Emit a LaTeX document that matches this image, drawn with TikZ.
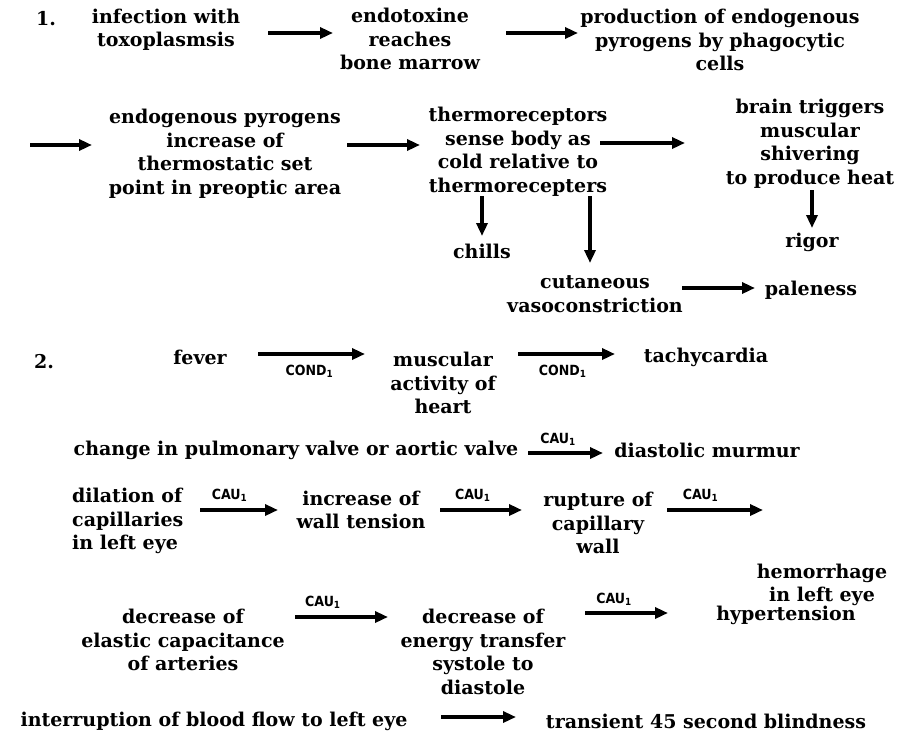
\documentclass[tikz,border=0pt]{standalone}
\usepackage{fontspec}
\setmainfont{DejaVu Serif}
\newfontfamily\labfont{DejaVu Sans Condensed}
\usetikzlibrary{arrows.meta}
\begin{document}
\begin{tikzpicture}[x=1pt,y=-1pt,
  txt/.style={inner sep=0pt, align=center, font=\fontsize{19}{23.5}\selectfont\bfseries},
  lab/.style={inner sep=0pt, font=\fontsize{14}{16}\selectfont\labfont\bfseries},
  arr/.style={line width=3.5pt, -{Triangle[length=13pt,width=11pt]}},
]
\useasboundingbox[fill=white] (0,0) rectangle (901,737);

% ---------- part 1: fever chain ----------
\node[txt] (num1) at (46,19) {1.};
\node[txt] (inf) at (166,30) {infection with\\toxoplasmsis};
\node[txt] (endo) at (410,39) {endotoxine\\reaches\\bone marrow};
\node[txt] (prod) at (720,40) {production of endogenous\\pyrogens by phagocytic\\cells};

\coordinate (a1s) at (268,33); \coordinate (a1e) at (333,33);
\coordinate (a2s) at (506,33); \coordinate (a2e) at (578,33);
\draw[arr] (a1s) -- (a1e);
\draw[arr] (a2s) -- (a2e);

\coordinate (a3s) at (30,145); \coordinate (a3e) at (92,145);
\draw[arr] (a3s) -- (a3e);
\node[txt] (setpt) at (225,154) {endogenous pyrogens\\increase of\\thermostatic set\\point in preoptic area};
\coordinate (a4s) at (347,145); \coordinate (a4e) at (420,145);
\draw[arr] (a4s) -- (a4e);
\node[txt] (thermo) at (518,152) {thermoreceptors\\sense body as\\cold relative to\\thermorecepters};
\coordinate (a5s) at (600,143); \coordinate (a5e) at (685,143);
\draw[arr] (a5s) -- (a5e);
\node[txt] (brain) at (810,144) {brain triggers\\muscular\\shivering\\to produce heat};

\node[txt] (rigor) at (812,242) {rigor};
\node[txt] (chills) at (482,251) {chills};
\node[txt] (vaso) at (595,294) {cutaneous\\vasoconstriction};
\node[txt] (pale) at (811,290) {paleness};

\coordinate (d1s) at (812,190); \coordinate (d1e) at (812,228);
\draw[arr] (d1s) -- (d1e);
\coordinate (d2s) at (482,196); \coordinate (d2e) at (482,236);
\draw[arr] (d2s) -- (d2e);
\coordinate (d3s) at (590,196); \coordinate (d3e) at (590,263);
\draw[arr] (d3s) -- (d3e);
\coordinate (a6s) at (682,288); \coordinate (a6e) at (755,288);
\draw[arr] (a6s) -- (a6e);

% ---------- part 2: causal chains ----------
\node[txt] (num2) at (44,362) {2.};
\node[txt] (fever) at (200,357) {fever};
\node[txt] (musc) at (443,383) {muscular\\activity of\\heart};
\node[txt] (tachy) at (706,357) {tachycardia};
\coordinate (b1s) at (258,354); \coordinate (b1e) at (365,354);
\draw[arr] (b1s) -- node[lab, below=9pt, pos=0.48] {COND\textsubscript{1}} (b1e);
\coordinate (b2s) at (518,354); \coordinate (b2e) at (615,354);
\draw[arr] (b2s) -- node[lab, below=9pt, pos=0.46] {COND\textsubscript{1}} (b2e);

\node[txt] (valve) at (296,450) {change in pulmonary valve or aortic valve};
\node[txt] (murmur) at (707,450) {diastolic murmur};
\coordinate (b3s) at (528,453); \coordinate (b3e) at (603,453);
\draw[arr] (b3s) -- node[lab, above=6pt, pos=0.4] {CAU\textsubscript{1}} (b3e);

\node[txt, align=left, anchor=west] (dil) at (72,521) {dilation of\\capillaries\\in left eye};
\node[txt] (tens) at (361,510) {increase of\\wall tension};
\node[txt] (rupt) at (598,523) {rupture of\\capillary\\wall};
\node[txt] (hem) at (822,585) {hemorrhage\\in left eye};
\coordinate (b4s) at (200,510); \coordinate (b4e) at (278,510);
\draw[arr] (b4s) -- node[lab, above=7pt, pos=0.38] {CAU\textsubscript{1}} (b4e);
\coordinate (b5s) at (440,510); \coordinate (b5e) at (522,510);
\draw[arr] (b5s) -- node[lab, above=7pt, pos=0.4] {CAU\textsubscript{1}} (b5e);
\coordinate (b6s) at (667,510); \coordinate (b6e) at (763,510);
\draw[arr] (b6s) -- node[lab, above=7pt, pos=0.35] {CAU\textsubscript{1}} (b6e);

\node[txt] (elast) at (183,640) {decrease of\\elastic capacitance\\of arteries};
\node[txt] (energy) at (483,652) {decrease of\\energy transfer\\systole to\\diastole};
\node[txt] (hyper) at (786,615) {hypertension};
\coordinate (b7s) at (295,617); \coordinate (b7e) at (388,617);
\draw[arr] (b7s) -- node[lab, above=7pt, pos=0.3] {CAU\textsubscript{1}} (b7e);
\coordinate (b8s) at (585,613); \coordinate (b8e) at (668,613);
\draw[arr] (b8s) -- node[lab, above=6pt, pos=0.35] {CAU\textsubscript{1}} (b8e);

\node[txt] (interr) at (214,721) {interruption of blood flow to left eye};
\node[txt] (blind) at (706,721) {transient 45 second blindness};
\coordinate (b9s) at (441,717); \coordinate (b9e) at (516,717);
\draw[arr] (b9s) -- (b9e);
\end{tikzpicture}
\end{document}
